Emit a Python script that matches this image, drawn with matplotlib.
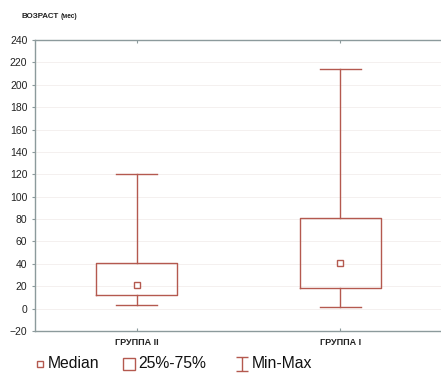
import matplotlib
matplotlib.use("Agg")
import matplotlib.pyplot as plt
from matplotlib.lines import Line2D
from matplotlib.path import Path

plt.rcParams['font.family'] = ['Liberation Sans', 'DejaVu Sans']

groups = ["ГРУППА II", "ГРУППА I"]
medians = [21, 41]
q1 = [12, 18]
q3 = [41, 81]
mins = [3, 1.5]
maxs = [120, 214]
yticks = list(range(-20, 241, 20))

col = '#b4594f'
spine_col = '#8c9a9c'
W, H = 441, 376

fig = plt.figure(figsize=(4.41, 3.76), dpi=100)
ax = fig.add_axes([35/W, 1 - 331/H, 407/W, 291/H])

stats = []
for g, m, a, b, lo, hi in zip(groups, medians, q1, q3, mins, maxs):
    stats.append(dict(label=g, med=m, q1=a, q3=b, whislo=lo, whishi=hi, fliers=[]))

pos = [1, 2]
ax.bxp(stats, positions=pos, widths=0.4, capwidths=0.2, showfliers=False,
       boxprops=dict(color=col, linewidth=1.0),
       whiskerprops=dict(color=col, linewidth=1.0),
       capprops=dict(color=col, linewidth=1.0),
       medianprops=dict(linestyle='none'))
ax.plot(pos, medians, linestyle='none', marker='s', markersize=4.2,
        markerfacecolor='white', markeredgecolor=col, markeredgewidth=1.0)

ax.set_xlim(0.5, 2.5)
ax.set_ylim(-20, 240)
ax.set_yticks(yticks)
ax.set_xticks(pos)
ax.set_xticklabels(groups, fontsize=6.5, fontweight='bold', color='#222222')
ax.tick_params(axis='y', labelsize=7.5, labelcolor='#222222', length=2,
               color=spine_col, width=0.8, right=True, direction='out')
ax.tick_params(axis='x', length=2, color=spine_col, width=0.8, top=True,
               direction='in', pad=5)
for s in ax.spines.values():
    s.set_color(spine_col)
    s.set_linewidth(1.0)
ax.grid(axis='y', color='#f3eeec', linewidth=0.6)
ax.set_axisbelow(True)

fig.text(22/W, 1 - 16/H, "ВОЗРАСТ", fontsize=5.8, fontweight='bold',
         color='#222222', va='center', ha='left')
fig.text(61/W, 1 - 16.5/H, "(мес)", fontsize=4.8, fontweight='bold',
         color='#222222', va='center', ha='left')

# legend drawn manually
ly = 1 - 364/H
ibeam = Path([(-0.9, 1), (0.9, 1), (0, 1), (0, -1), (-0.9, -1), (0.9, -1)],
             [Path.MOVETO, Path.LINETO, Path.MOVETO, Path.LINETO, Path.MOVETO, Path.LINETO])
legend_items = [
    (39.5, 's', 5.0, "Median", 48),
    (129, 's', 8.8, "25%-75%", 138),
    (241.5, ibeam, 10.0, "Min-Max", 252),
]
for mx, mk, ms, txt, tx in legend_items:
    fig.add_artist(Line2D([mx/W], [ly], transform=fig.transFigure, linestyle='none',
                          marker=mk, markersize=ms, markerfacecolor='white' if mk == 's' else 'none',
                          markeredgecolor=col, markeredgewidth=1.0))
    fig.text(tx/W, ly, txt, fontsize=11.3, color='#111111', va='center', ha='left')

fig.savefig("out.png", dpi=100)
